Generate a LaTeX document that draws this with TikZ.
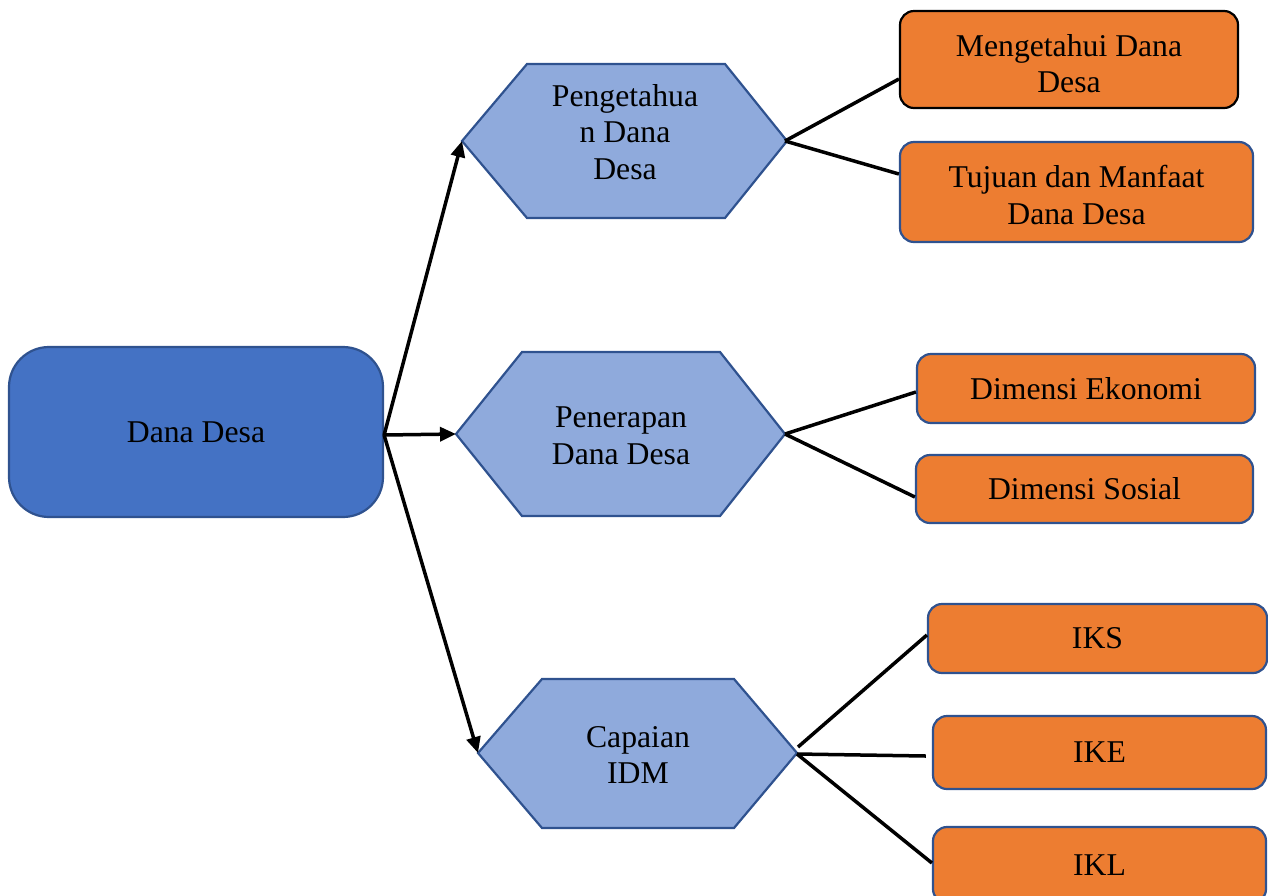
\documentclass[tikz,border=0pt]{standalone}
\usepackage{fontspec}
\setmainfont{Liberation Serif}
\usetikzlibrary{arrows.meta}
\definecolor{darkblue}{HTML}{4472C4}
\definecolor{lightblue}{HTML}{8FAADC}
\definecolor{edgeblue}{HTML}{2F528F}
\definecolor{orangefill}{HTML}{ED7D31}
\begin{document}
\begin{tikzpicture}[x=1pt,y=-1pt,
  every node/.style={font=\fontsize{31.7}{36.5}\selectfont, align=center, text=black, inner sep=0pt},
  mainbox/.style={draw=edgeblue, fill=darkblue, line width=2.2pt, rounded corners=40pt},
  hexa/.style={draw=edgeblue, fill=lightblue, line width=2.2pt},
  obox/.style={draw=edgeblue, fill=orangefill, line width=2.2pt, rounded corners=14pt},
  arrowline/.style={line width=3.5pt, -{Triangle[length=16pt,width=14pt]}},
  conn/.style={line width=3.5pt}]
\useasboundingbox (0,0) rectangle (1268,895);
\clip (0,0) rectangle (1268,895);

% main box
\node[mainbox, minimum width=374pt, minimum height=170pt] (dana) at (196,432) {Dana Desa};
\coordinate (src) at ([yshift=-3pt]dana.east);

% hexagons
\draw[hexa] (462,141) -- (527,64) -- (725,64) -- (787,141) -- (725,218) -- (527,218) -- cycle;
\coordinate (h1L) at (462,141);
\coordinate (h1R) at (785,141);
\node (h1) at (625,132) {Pengetahua\\n Dana\\Desa};

\draw[hexa] (456,434) -- (522,352) -- (720,352) -- (785,434) -- (720,516) -- (522,516) -- cycle;
\coordinate (h2L) at (456,434);
\coordinate (h2R) at (785,434);
\node (h2) at (621,436) {Penerapan\\Dana Desa};

\draw[hexa] (478,753) -- (542,679) -- (734,679) -- (797,753) -- (734,828) -- (542,828) -- cycle;
\coordinate (h3L) at (478,753);
\coordinate (h3R) at (797,754);
\coordinate (h3T) at (798,747);
\node (h3) at (638,755) {Capaian\\IDM};

% orange boxes
\node[obox, draw=black, minimum width=338pt, minimum height=97pt] (b1) at (1069,59.5) {};
\node at (1069,63.5) {Mengetahui Dana\\Desa};
\node[obox, minimum width=353pt, minimum height=100pt] (b2) at (1076.5,192) {};
\node at (1076.5,195) {Tujuan dan Manfaat\\Dana Desa};
\node[obox, minimum width=338pt, minimum height=69pt] (b3) at (1086,388.5) {Dimensi Ekonomi};
\node[obox, minimum width=337pt, minimum height=68pt] (b4) at (1084.5,489) {Dimensi Sosial};
\node[obox, minimum width=339pt, minimum height=69pt] (b5) at (1097.5,638.5) {IKS};
\node[obox, minimum width=333pt, minimum height=73pt] (b6) at (1099.5,752.5) {IKE};
\node[obox, minimum width=333pt, minimum height=76pt] (b7) at (1099.5,865) {IKL};

% arrows
\draw[arrowline] (src) -- (h1L);
\draw[arrowline] (src) -- (h2L);
\draw[arrowline] (src) -- (h3L);

% connectors
\draw[conn] (h1R) -- ([yshift=-19.5pt]b1.west);
\draw[conn] (h1R) -- ([yshift=18pt]b2.west);
\draw[conn] (h2R) -- ([yshift=-3.5pt]b3.west);
\draw[conn] (h2R) -- ([yshift=-8pt]b4.west);
\draw[conn] (h3T) -- ([yshift=3.5pt]b5.west);
\draw[conn] (h3R) -- ([xshift=-6pt,yshift=-3.5pt]b6.west);
\draw[conn] (h3R) -- ([yshift=2pt]b7.west);
\end{tikzpicture}
\end{document}
